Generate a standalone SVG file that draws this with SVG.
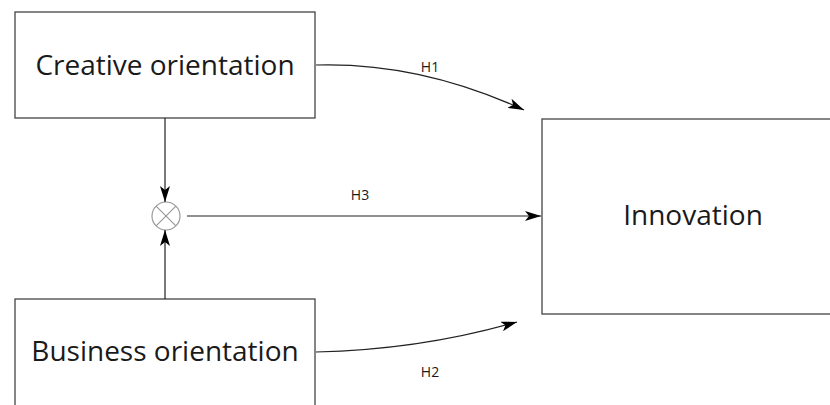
<svg xmlns="http://www.w3.org/2000/svg" width="830" height="405" viewBox="0 0 830 405">
<style>
.box{fill:#fff;stroke:#444;stroke-width:1.3}
.lbl{font-family:"Open Sans","Noto Sans",sans-serif;font-size:28px;fill:#1a1a1a;text-anchor:middle}
.sm{font-family:"Open Sans","Noto Sans",sans-serif;font-size:14px;fill:#1a1a1a;text-anchor:middle}
.con{fill:none;stroke:#222;stroke-width:1.2}
</style>
<defs>
<marker id="ah" viewBox="0 0 16 10" refX="16" refY="5" markerWidth="16" markerHeight="10" markerUnits="userSpaceOnUse" orient="auto">
<path d="M0,0 L16,5 L0,10 L4,5 Z" fill="#000"/>
</marker>
</defs>
<rect width="830" height="405" fill="#fff"/>
<g id="creative">
<rect class="box" x="15" y="12" width="300" height="106"/>
<text class="lbl" x="165" y="75">Creative orientation</text>
</g>
<g id="business">
<rect class="box" x="15" y="299" width="300" height="130"/>
<text class="lbl" x="165" y="361">Business orientation</text>
</g>
<g id="innovation">
<rect class="box" x="542" y="119" width="300" height="195"/>
<text class="lbl" x="693" y="225">Innovation</text>
</g>
<g id="moderator">
<circle cx="166" cy="216" r="14" fill="#fff" stroke="#999" stroke-width="1.2"/>
<path d="M156.1,206.1 L175.9,225.9 M175.9,206.1 L156.1,225.9" stroke="#999" stroke-width="1.2"/>
</g>
<g id="connectors">
<path class="con" d="M165,118 L165,202" marker-end="url(#ah)"/>
<path class="con" d="M165,299 L165,230" marker-end="url(#ah)"/>
<path class="con" d="M187,216 L541,216" marker-end="url(#ah)"/>
<path class="con" d="M316,65 Q420,62 524,110" marker-end="url(#ah)"/>
<path class="con" d="M316,352 Q420,350 517,322" marker-end="url(#ah)"/>
<text class="sm" x="430" y="72">H1</text>
<text class="sm" x="360" y="200">H3</text>
<text class="sm" x="430" y="377">H2</text>
</g>
</svg>
